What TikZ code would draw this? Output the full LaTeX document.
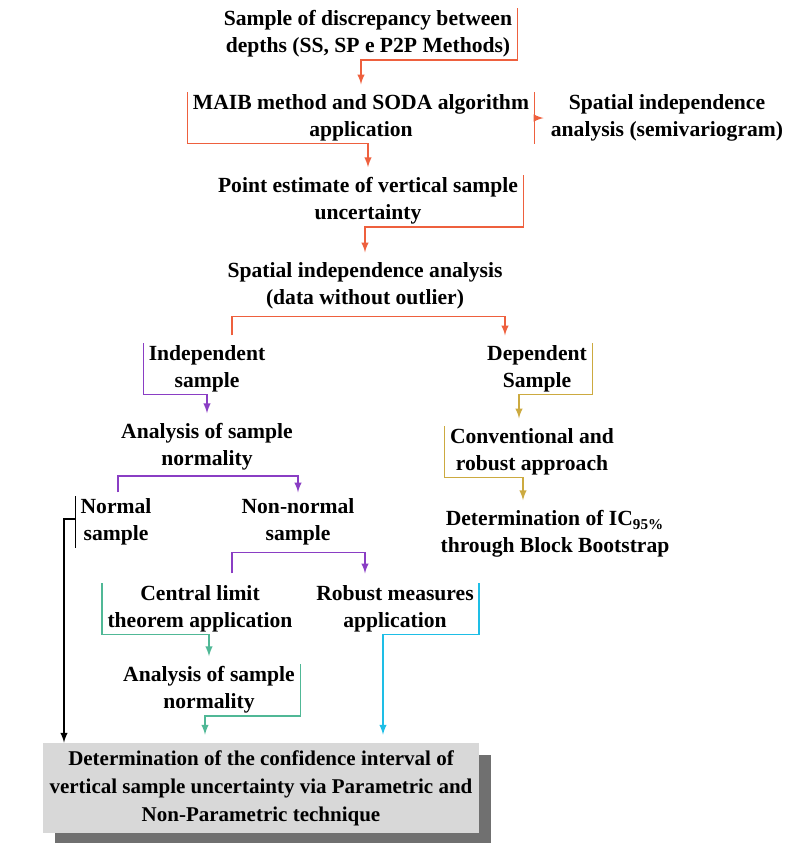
\documentclass[tikz,border=0pt]{standalone}
\usepackage{fontspec}
\setmainfont{Liberation Serif}
\usetikzlibrary{arrows,calc,shadows}
\definecolor{FlowClr}{RGB}{238,96,62}
\definecolor{IndepClr}{RGB}{138,62,196}
\definecolor{DepClr}{RGB}{204,170,64}
\definecolor{CltClr}{RGB}{80,184,150}
\definecolor{RobClr}{RGB}{30,190,230}
\definecolor{BoxClr}{RGB}{216,216,216}
\definecolor{ShadowClr}{RGB}{112,112,112}

\begin{document}
\begin{tikzpicture}[x=.5pt,y=-.5pt,
  txt/.style={align=center,inner xsep=2.5pt,inner ysep=1pt,
    font=\bfseries\fontsize{10.8}{13.5}\selectfont},
  final/.style={txt,fill=BoxClr,minimum width=218pt,minimum height=45pt,
    font=\bfseries\fontsize{10.5}{14}\selectfont,
    drop shadow={shadow xshift=6pt,shadow yshift=-6pt,fill=ShadowClr,opacity=1}},
  link/.style={line width=.7pt,-latex,shorten >=4pt}]
\useasboundingbox (0,0) rectangle (793,843);

\node[txt] (smp) at (368,34) {Sample of discrepancy between\\depths (SS, SP e P2P Methods)};
\node[txt] (maib) at (361,118) {MAIB method and SODA algorithm\\application};
\node[txt] (semi) at (667,118) {Spatial independence\\analysis (semivariogram)};
\node[txt] (pest) at (368,201) {Point estimate of vertical sample\\uncertainty};
\node[txt] (spat) at (365,286) {Spatial independence analysis\\(data without outlier)};
\node[txt] (indep) at (207,369) {Independent\\sample};
\node[txt] (dep) at (537,369) {Dependent\\Sample};
\node[txt] (anl1) at (207,447) {Analysis of sample\\normality};
\node[txt] (conv) at (532,452) {Conventional and\\robust approach};
\node[txt] (ic) at (555,534) {Determination of IC\textsubscript{95\%}\\through Block Bootstrap};
\node[txt] (norm) at (116,522) {Normal\\sample};
\node[txt] (nonn) at (298,522) {Non-normal\\sample};
\node[txt] (clt) at (200,609) {Central limit\\theorem application};
\node[txt] (rob) at (395,609) {Robust measures\\application};
\node[txt] (anl2) at (209,690) {Analysis of sample\\normality};
\node[final] (final) at (261,788) {Determination of the confidence interval of\\vertical sample uncertainty via Parametric and\\Non-Parametric technique};

\draw[FlowClr,link] (smp.north east) -- (smp.south east) -| (maib.north);
\draw[FlowClr,link] (maib.north west) -- (maib.south west) -| (pest.north);
\draw[FlowClr,line width=.7pt] (maib.north east) -- (maib.south east);
\draw[FlowClr,link,shorten >=1pt] (maib.east) -- (semi.west);
\draw[FlowClr,link] (pest.north east) -- (pest.south east) -| (spat.north);
\draw[FlowClr,link,shorten <=4pt] ($(indep.north)+(25,0)$) |- ($(spat.south)+(0,5)$) -| ($(dep.north)+(-32,0)$);

\draw[IndepClr,link] (indep.north west) -- (indep.south west) -| (anl1.north);
\draw[IndepClr,link,shorten <=2pt,shorten >=2pt] ($(norm.north)+(2,0)$) |- ($(anl1.south)+(0,3)$) -| (nonn.north);
\draw[IndepClr,link,shorten <=5pt,shorten >=5pt] ($(clt.north)+(32,0)$) |- ($(nonn.south)+(0,5)$) -| ($(rob.north)+(-30,0)$);

\draw[DepClr,link] (dep.north east) -- (dep.south east) -| ($(conv.north)+(-13,0)$);
\draw[DepClr,link] (conv.north west) -- (conv.south west) -| ($(ic.north)+(-32,0)$);

\draw[line width=.7pt] (norm.north west) -- (norm.south west);
\draw[link,shorten >=0pt] ($(norm.west)+(0,-3)$) -| ($(final.north)+(-197,0)$);
\draw[CltClr,link] (clt.north west) -- (clt.south west) -| (anl2.north);
\draw[CltClr,link] (anl2.north east) -- (anl2.south east) -| ($(final.north)+(-56,0)$);
\draw[RobClr,link] (rob.north east) -- (rob.south east) -| ($(final.north)+(122,0)$);
\end{tikzpicture}
\end{document}
